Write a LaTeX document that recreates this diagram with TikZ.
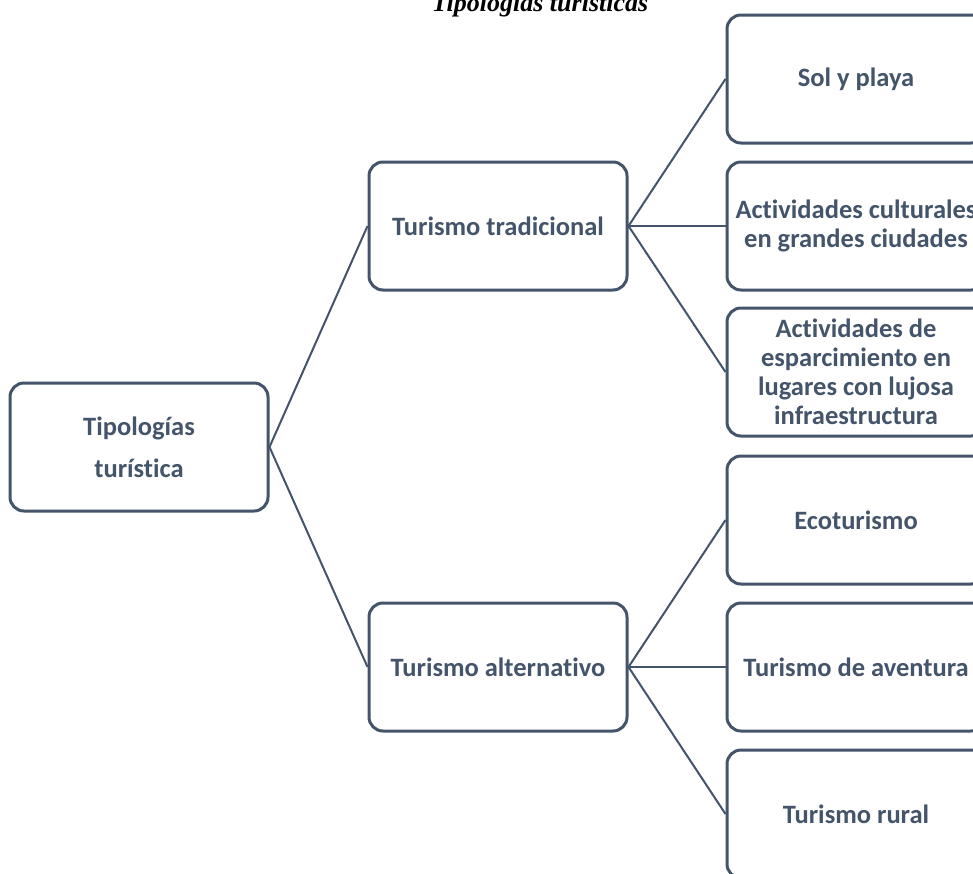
\documentclass[tikz,border=0pt]{standalone}
\usepackage{fontspec}
\setmainfont{Carlito}[Ligatures={NoCommon}]
\newfontfamily\titlefont{Liberation Serif}
\definecolor{ink}{HTML}{44546A}
\begin{document}
\begin{tikzpicture}[x=1pt,y=-1pt,
  box/.style={draw=ink, line width=3pt, rounded corners=14pt, fill=white,
    minimum width=258pt, minimum height=128pt, inner sep=0pt,
    align=center, text=ink, font=\bfseries\fontsize{26.5}{29}\selectfont},
  link/.style={draw=ink, line width=2pt}]
\clip (0,0) rectangle (973,873);
\fill[white] (0,0) rectangle (973,873);

% title
\node[anchor=base, font=\titlefont\bfseries\itshape\fontsize{26}{30}\selectfont] (title) at (540,11) {Tipologías turísticas};

% root and the two branches
\node[box] (root) at (139,447) {Tipologías\\[13pt]turística};
\node[box] (trad) at (498,226) {Turismo tradicional};
\node[box] (alt)  at (498,667) {Turismo alternativo};

% leaves
\node[box] (sol)  at (856,79)  {Sol y playa};
\node[box] (cult) at (856,226) {Actividades culturales\\en grandes ciudades};
\node[box] (esp)  at (856,372) {Actividades de\\esparcimiento en\\lugares con lujosa\\infraestructura};
\node[box] (eco)  at (856,520) {Ecoturismo};
\node[box] (avt)  at (856,667) {Turismo de aventura};
\node[box] (rur)  at (856,814) {Turismo rural};

% connectors
\draw[link] (root.east) -- (trad.west);
\draw[link] (root.east) -- (alt.west);
\draw[link] (trad.east) -- (sol.west);
\draw[link] (trad.east) -- (cult.west);
\draw[link] (trad.east) -- (esp.west);
\draw[link] (alt.east) -- (eco.west);
\draw[link] (alt.east) -- (avt.west);
\draw[link] (alt.east) -- (rur.west);
\end{tikzpicture}
\end{document}
